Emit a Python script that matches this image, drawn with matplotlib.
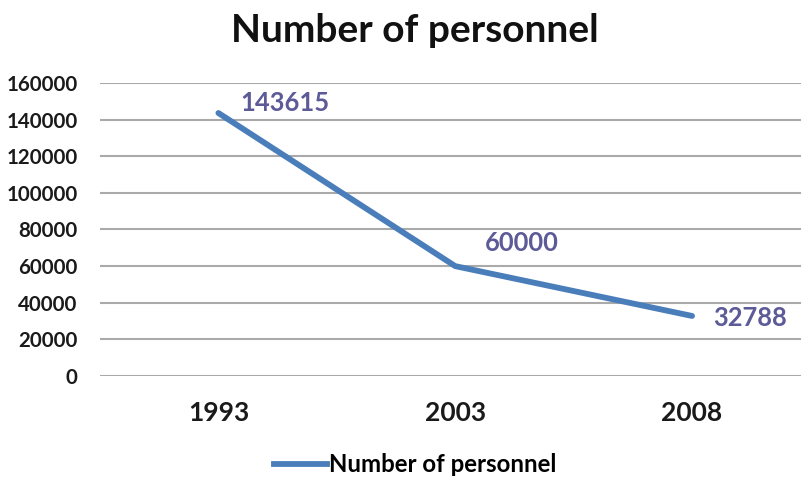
import matplotlib.pyplot as plt
from matplotlib.lines import Line2D

years = ['1993', '2003', '2008']
personnel = [143615, 60000, 32788]
yticks = [0, 20000, 40000, 60000, 80000, 100000, 120000, 140000, 160000]

line_color = '#4a7ebb'
label_color = '#5d5a98'

plt.rcParams['font.family'] = ['Lato', 'DejaVu Sans']

fig = plt.figure(figsize=(8.01, 4.8), dpi=100)
ax = fig.add_axes([100 / 801, 104 / 480, 701 / 801, 293 / 480])

x = list(range(len(years)))
ax.plot(x, personnel, color=line_color, lw=4.2, solid_capstyle='round', zorder=3)

# data labels
offsets = [(22, 10), (30, 23), (21, -2)]
for xi, v, (dx, dy) in zip(x, personnel, offsets):
    ax.annotate(str(v), (xi, v), xytext=(dx * 0.72, dy * 0.72), textcoords='offset points',
                ha='left', va='center', fontsize=18.4, fontweight='bold', color=label_color)

ax.set_xlim(-0.5, 2.46)
ax.set_ylim(0, 160000)
ax.set_xticks(x)
ax.set_xticklabels(years, fontsize=19, fontweight='bold')
ax.tick_params(axis='both', length=0, colors='#1a1a1a')
ax.set_yticks(yticks)
ax.set_yticklabels([str(t) for t in yticks], fontsize=14.8, fontweight='bold')
ax.tick_params(axis='x', pad=18)
ax.tick_params(axis='y', pad=16)
ax.grid(axis='y', color='#aaaaaa', lw=1.5)
ax.set_axisbelow(True)
for s in ax.spines.values():
    s.set_visible(False)

fig.text(415 / 801, 1 - 30 / 480, 'Number of personnel', ha='center', va='center',
         fontsize=28, fontweight='bold', color='#111111')

handle = Line2D([0], [0], color=line_color, lw=4.2)
fig.legend([handle], ['Number of personnel'], loc='center', bbox_to_anchor=(415 / 801, 1 - 465 / 480),
           frameon=False, prop={'size': 17.3, 'weight': 'bold'}, handlelength=2.2, handletextpad=0.1)

fig.savefig('out.png', dpi=100)
